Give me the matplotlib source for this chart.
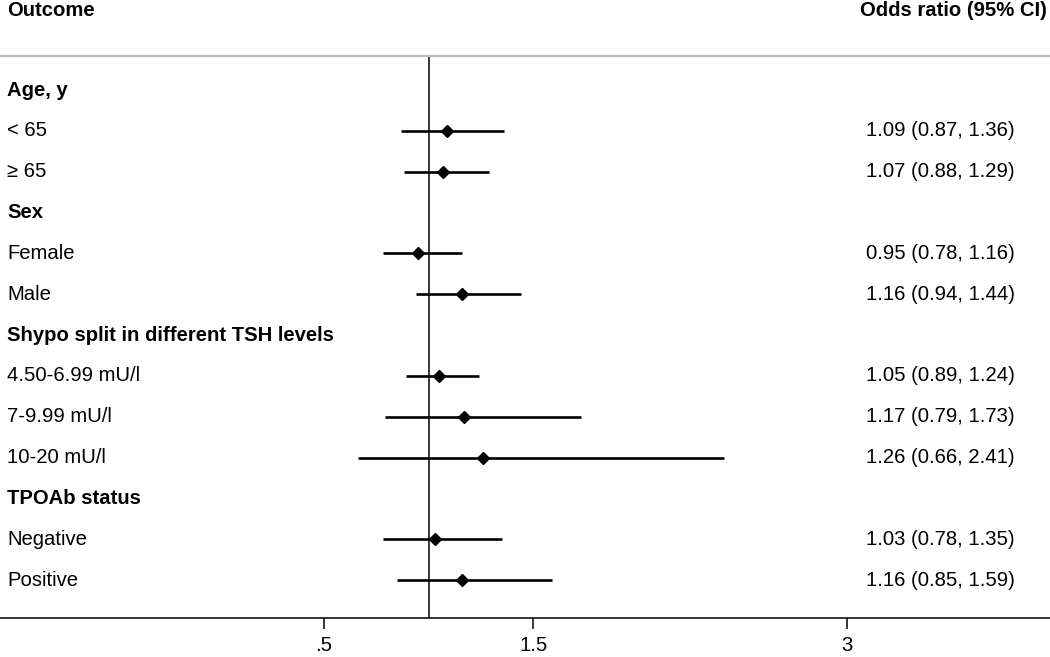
import matplotlib.pyplot as plt
import numpy as np

plt.rcParams['font.family'] = ['Liberation Sans', 'DejaVu Sans']

# rows of the table, top to bottom (group headers have no estimate)
row_labels = ['Age, y', '< 65', '\u2265 65', 'Sex', 'Female', 'Male',
              'Shypo split in different TSH levels', '4.50-6.99 mU/l',
              '7-9.99 mU/l', '10-20 mU/l', 'TPOAb status', 'Negative', 'Positive']
is_header = [True, False, False, True, False, False,
             True, False, False, False, True, False, False]

# estimates for the non-header rows, in order
odds = [1.09, 1.07, 0.95, 1.16, 1.05, 1.17, 1.26, 1.03, 1.16]
ci_low = [0.87, 0.88, 0.78, 0.94, 0.89, 0.79, 0.66, 0.78, 0.85]
ci_high = [1.36, 1.29, 1.16, 1.44, 1.24, 1.73, 2.41, 1.35, 1.59]

xticks = [0.5, 1.5, 3]
xtick_labels = ['.5', '1.5', '3']

fs = 14.6

fig = plt.figure(figsize=(10.5, 6.57), dpi=100)
# axes spans the full width, from the gray header line to the bottom axis
ax = fig.add_axes([0, 39 / 657, 1, 562 / 657])

row_y = np.arange(len(row_labels))
est_y = row_y[[not h for h in is_header]]

ax.hlines(est_y, ci_low, ci_high, color='black', linewidth=1.9)
ax.plot(odds, est_y, 'D', color='black', markersize=6.5)
ax.axvline(1, color='black', linewidth=1.1)

for y, lab, h in zip(row_y, row_labels, is_header):
    ax.text(7 / 1050, y, lab, transform=ax.get_yaxis_transform(),
            ha='left', va='center', fontsize=fs,
            fontweight='bold' if h else 'normal')

for y, o, lo, hi in zip(est_y, odds, ci_low, ci_high):
    ax.text(1015 / 1050, y, f'{o:.2f} ({lo:.2f}, {hi:.2f})',
            transform=ax.get_yaxis_transform(), ha='right', va='center',
            fontsize=fs)

fig.text(7 / 1050, 1 - 11 / 657, 'Outcome', ha='left', va='center',
         fontsize=fs, fontweight='bold')
fig.text(1047 / 1050, 1 - 11 / 657, 'Odds ratio (95% CI)', ha='right',
         va='center', fontsize=fs, fontweight='bold')

ax.set_xlim(-1.049, 3.97)
ax.set_ylim(12.93, -0.833)
ax.set_xticks(xticks)
ax.set_xticklabels(xtick_labels, fontsize=fs)
ax.tick_params(axis='x', length=8, width=1.1, pad=5)
ax.set_yticks([])
ax.spines['left'].set_visible(False)
ax.spines['right'].set_visible(False)
ax.spines['top'].set_color('#bbbbbb')
ax.spines['top'].set_linewidth(1.6)
ax.spines['bottom'].set_linewidth(1.1)

fig.savefig('out.png', dpi=100)
